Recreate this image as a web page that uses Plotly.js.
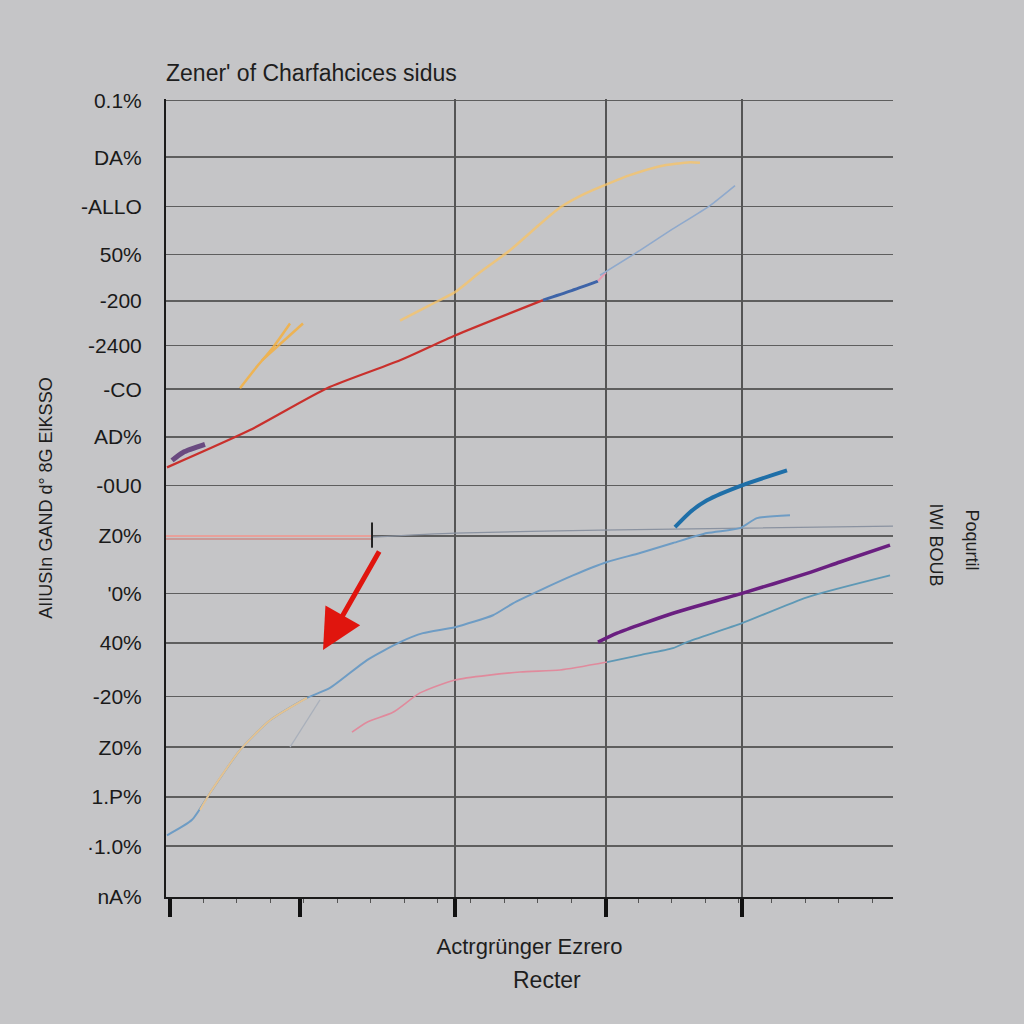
<!DOCTYPE html>
<html><head><meta charset="utf-8">
<script src="https://cdn.plot.ly/plotly-3.0.1.min.js"></script>
<style>html,body{margin:0;padding:0;background:#c5c5c7;}#chart{width:1024px;height:1024px;}</style>
</head><body><div id="chart"></div>
<script>
// y tick positions (bottom to top) and labels
const yTickVals = [0, 1.02, 2.01, 3.01, 4.03, 5.10, 6.10, 7.25, 8.27, 9.24, 10.2, 11.08, 11.97, 12.91, 13.87, 14.86, 16];
const yTickText = ["nA%", "·1.0%", "1.P%", "Z0%", "-20%", "40%", "'0%", "Z0%", "-0U0", "AD%", "-CO", "-2400", "-200", "50%", "-ALLO", "DA%", "0.1%"];
const xTickVals = [0.55, 18.43, 39.75, 60.52, 79.23];
const xGridVals = [39.75, 60.52, 79.23];

// series
const redX = [0.14, 11.55, 22.15, 32.19, 39.75, 51.86];
const redY = [8.63, 9.38, 10.22, 10.78, 11.28, 11.99];
const blueMidX = [51.86, 55.57, 59.42];
const blueMidY = [11.99, 12.17, 12.37];
const pinkBitX = [59.42, 60.52];
const pinkBitY = [12.37, 12.55];
const lightBlueX = [59.7, 65.2, 69.6, 74.83, 78.27];
const lightBlueY = [12.49, 12.99, 13.41, 13.89, 14.29];
const purpleStubX = [0.83, 2.34, 5.36];
const purpleStubY = [8.77, 8.93, 9.09];
const orangeX = [32.19, 36.31, 39.75, 43.19, 47.32, 50.76, 54.2, 57.63, 60.52, 63.82, 67.95, 72.08, 73.45];
const orangeY = [11.58, 11.89, 12.15, 12.55, 12.99, 13.43, 13.85, 14.13, 14.31, 14.5, 14.68, 14.76, 14.75];
const orangeVX = [10.18, 12.65, 14.72, 17.06, null, 13.2, 18.84];
const orangeVY = [10.22, 10.68, 11.04, 11.52, null, 10.78, 11.52];
const flatX = [0, 28.34];
const flatY1 = [7.25, 7.25];
const flatY2 = [7.19, 7.19];
const grayX = [28.34, 39.75, 59.7, 100];
const grayY = [7.23, 7.31, 7.37, 7.45];
const crossX = [28.34];
const crossY = [7.27];
const blueX = [0.14, 3.58, 6.05, 10.18, 14.31, 19.39, 22.56, 27.65, 32.19, 35.35, 39.75, 44.98, 47.73, 51.44, 55.98, 60.66, 65.2, 69.74, 74.42, 78.95, 81.29, 85.83];
const blueY = [1.24, 1.55, 2.09, 2.95, 3.55, 4.0, 4.2, 4.76, 5.12, 5.3, 5.42, 5.66, 5.9, 6.16, 6.46, 6.73, 6.91, 7.11, 7.31, 7.41, 7.61, 7.67];
const orangeLowX = [4.68, 6.05, 10.18, 14.31, 19.39];
const orangeLowY = [1.75, 2.09, 2.95, 3.55, 4.0];
const grayShortX = [17.06, 21.18];
const grayShortY = [3.01, 3.96];
const darkBlueX = [70.01, 72.08, 74.42, 79.23, 85.42];
const darkBlueY = [7.43, 7.73, 7.97, 8.27, 8.57];
const pinkLowX = [25.58, 27.65, 31.22, 34.94, 39.75, 48.69, 54.2, 60.66];
const pinkLowY = [3.31, 3.51, 3.71, 4.1, 4.36, 4.52, 4.56, 4.72];
const tealX = [60.66, 65.2, 69.74, 71.66, 79.23, 88.17, 99.59];
const tealY = [4.72, 4.86, 5.0, 5.12, 5.5, 6.02, 6.46];
const purpleX = [59.42, 62.04, 69.74, 79.23, 88.17, 92.71, 99.59];
const purpleY = [5.12, 5.3, 5.7, 6.1, 6.5, 6.73, 7.07];
const arrowTail = [29.44, 6.97];
const arrowHead = [21.6, 4.96];

function ln(x, y, color, width, opacity) {
  return {x: x, y: y, type: 'scatter', mode: 'lines', line: {color: color, width: width, shape: 'spline', smoothing: 0.6},
          opacity: opacity === undefined ? 1 : opacity, hoverinfo: 'skip', showlegend: false, connectgaps: false};
}
const traces = [
  ln(flatX, flatY1, '#e8a09a', 2),
  ln(flatX, flatY2, '#c98a86', 1.5),
  ln(grayX, grayY, '#8a92a0', 1.2),
  ln(redX, redY, '#c9302c', 2.2),
  ln(blueMidX, blueMidY, '#3e64a8', 3),
  ln(pinkBitX, pinkBitY, '#e59ab0', 2),
  ln(lightBlueX, lightBlueY, '#8fa9cc', 1.6),
  ln(purpleStubX, purpleStubY, '#6a4a80', 5),
  ln(orangeX, orangeY, '#f5c36a', 2.5, 0.8),
  ln(orangeVX, orangeVY, '#f4b040', 2.5, 0.85),
  ln(blueX, blueY, '#6e9cc4', 2),
  ln(orangeLowX, orangeLowY, '#f1c68c', 2, 0.9),
  ln(grayShortX, grayShortY, '#a9b0bb', 1.2),
  ln(darkBlueX, darkBlueY, '#1f6fa8', 4),
  ln(pinkLowX, pinkLowY, '#e08a9c', 1.6),
  ln(tealX, tealY, '#5e98b5', 1.8),
  ln(purpleX, purpleY, '#6a1f80', 3.5),
  {x: crossX, y: crossY, type: 'scatter', mode: 'markers', showlegend: false, hoverinfo: 'skip',
   marker: {symbol: 'line-ns', size: 18, line: {color: '#222', width: 2}}},
  {x: [50], y: [8], xaxis: 'x2', type: 'scatter', mode: 'markers', marker: {opacity: 0}, showlegend: false, hoverinfo: 'skip'}
];

const font = 'Liberation Sans, Arial, sans-serif';
const layout = {
  width: 1024, height: 1024,
  paper_bgcolor: '#c5c5c7', plot_bgcolor: '#c5c5c7',
  margin: {l: 166, r: 131, t: 99, b: 127},
  showlegend: false,
  title: {text: "Zener' of Charfahcices sidus", x: 166/1024, xanchor: 'left', y: 1 - 73/1024, yanchor: 'middle',
          font: {family: font, size: 23, color: '#1e1e1e'}},
  xaxis: {range: [0, 100], showgrid: false, zeroline: false, showline: true, linecolor: '#1a1a1a', linewidth: 2,
          tickmode: 'array', tickvals: xTickVals, ticktext: xTickVals.map(() => ''), ticks: 'outside', ticklen: 18, tickwidth: 4, tickcolor: '#111',
          minor: {dtick: 4.6, tick0: 0.55, ticks: 'outside', ticklen: 4, tickwidth: 1, tickcolor: '#555', showgrid: false},
          title: {text: 'Actrgrünger Ezrero', font: {family: font, size: 22, color: '#1e1e1e'}, standoff: 20}},
  xaxis2: {range: [0, 100], overlaying: 'x', showgrid: true, gridcolor: '#555', gridwidth: 1.5, tickmode: 'array', tickvals: xGridVals,
           showticklabels: false, ticks: '', zeroline: false, showline: false},
  yaxis: {range: [0, 16.03], showgrid: true, gridcolor: '#5e5e5e', gridwidth: 1.5, zeroline: false, showline: true, linecolor: '#1a1a1a', linewidth: 2,
          tickmode: 'array', tickvals: yTickVals, ticktext: yTickText, ticks: '', ticklabelstandoff: 18,
          tickfont: {family: font, size: 21, color: '#1a1a1a'},
          title: {text: 'AIIUSIn GAND d° 8G ElKSSO', font: {family: font, size: 18, color: '#1e1e1e'}, standoff: 24}},
  annotations: [
    {x: arrowHead[0], y: arrowHead[1], ax: arrowTail[0], ay: arrowTail[1], axref: 'x', ayref: 'y', xref: 'x', yref: 'y',
     showarrow: true, arrowhead: 2, arrowsize: 1.6, arrowwidth: 5, arrowcolor: '#e0150e', text: ''},
    {xref: 'paper', yref: 'paper', x: (547-166)/727, y: -(980-897)/797, yanchor: 'middle', text: 'Recter', showarrow: false,
     font: {family: font, size: 23, color: '#1e1e1e'}},
    {xref: 'paper', yref: 'paper', x: (972-166)/727, y: (897-540)/797, xanchor: 'center', text: 'Poqurtil', textangle: 90, showarrow: false,
     font: {family: font, size: 18, color: '#1e1e1e'}},
    {xref: 'paper', yref: 'paper', x: (936-166)/727, y: (897-545)/797, xanchor: 'center', text: 'IWI BOUB', textangle: 90, showarrow: false,
     font: {family: font, size: 18, color: '#1e1e1e'}}
  ]
};
Plotly.newPlot('chart', traces, layout, {staticPlot: true});
</script></body></html>
